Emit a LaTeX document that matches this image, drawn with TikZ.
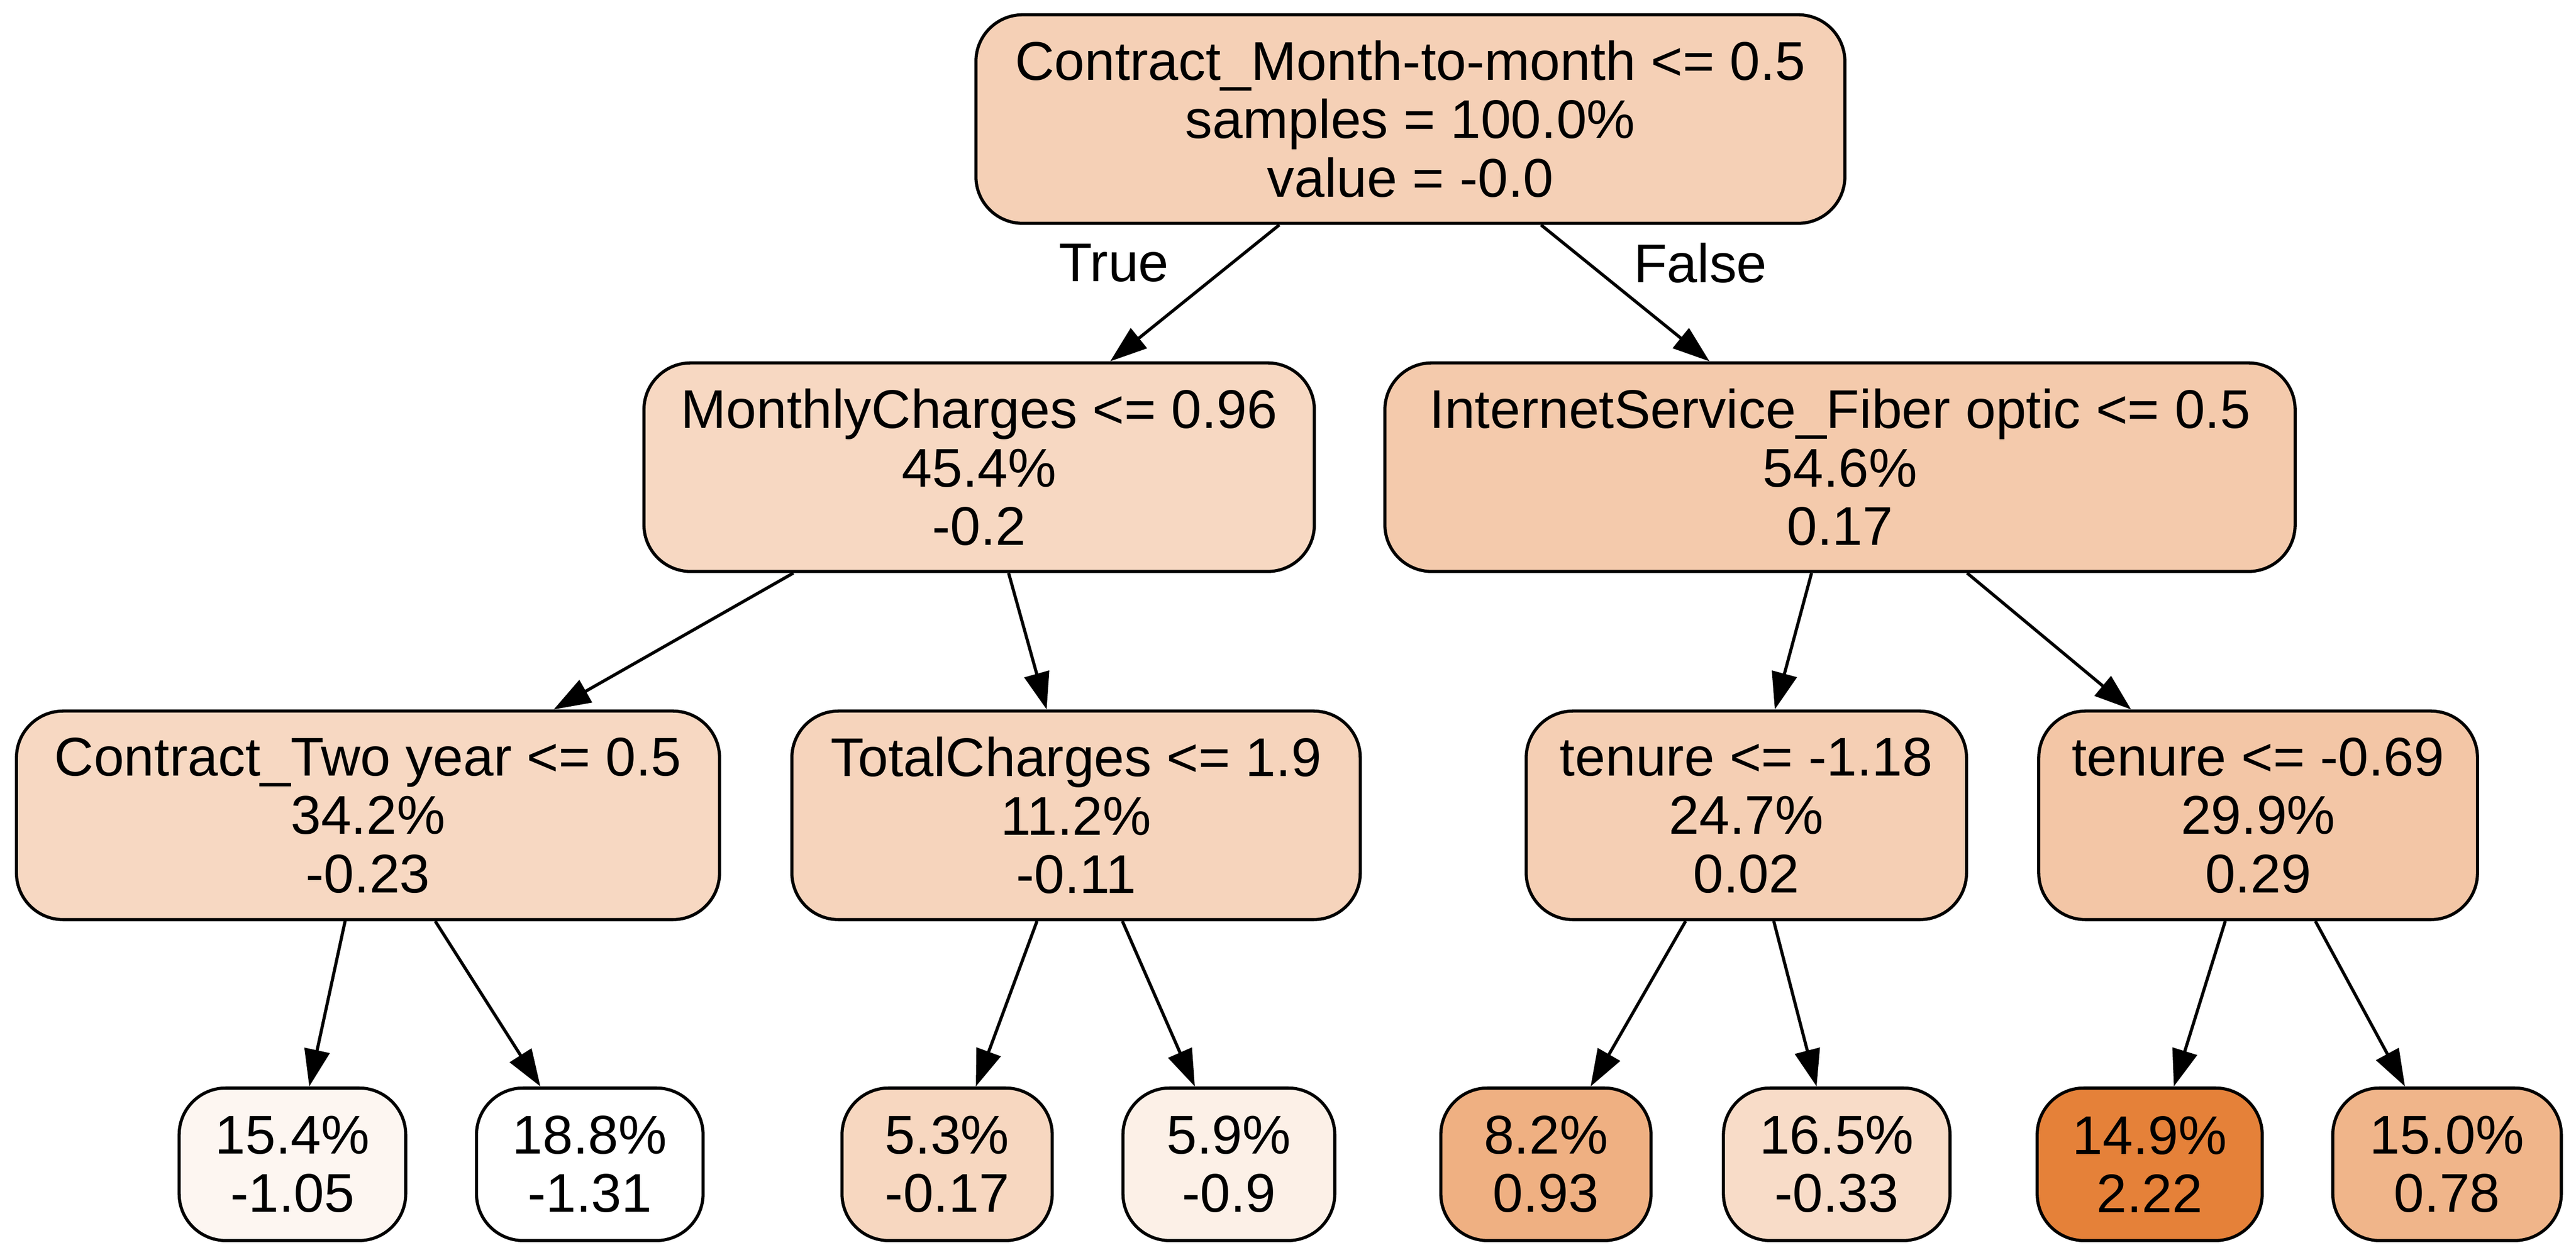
\documentclass[tikz,border=0pt]{standalone}
\usepackage{fontspec}
\setmainfont{Liberation Sans}
\usepackage{xcolor}
\usetikzlibrary{arrows.meta}
\definecolor{treeorange}{HTML}{E58139}

\begin{document}
\begin{tikzpicture}[x=0.422pt, y=-0.422pt,
  split/.style={draw, line width=0.8pt, rounded corners=12pt, align=center, inner sep=0pt, minimum height=53.6pt, font=\fontsize{14pt}{15pt}\selectfont},
  leaf/.style={split, minimum height=39.2pt},
  branch/.style={line width=0.8pt, -{Triangle[length=9.5pt, width=6.5pt]}},
  edgelabel/.style={font=\fontsize{14pt}{15pt}\selectfont}]
\useasboundingbox (0,0) rectangle (1568,764);
\node[split, fill=treeorange!37, minimum width=223.2pt] (root) at (858.5,72.5) {Contract\_Month-to-month <= 0.5\\samples = 100.0\%\\value = -0.0};
\node[split, fill=treeorange!31, minimum width=172.2pt] (monthly) at (596,284.5) {MonthlyCharges <= 0.96\\45.4\%\\-0.2};
\node[split, fill=treeorange!42, minimum width=233.8pt] (fiber) at (1120,284.5) {InternetService\_Fiber optic <= 0.5\\54.6\%\\0.17};
\node[split, fill=treeorange!31, minimum width=180.6pt] (twoyear) at (224,496.5) {Contract\_Two year <= 0.5\\34.2\%\\-0.23};
\node[split, fill=treeorange!34, minimum width=146pt] (total) at (655,496.5) {TotalCharges <= 1.9\\11.2\%\\-0.11};
\node[split, fill=treeorange!38, minimum width=113.1pt] (tenurea) at (1063,496.5) {tenure <= -1.18\\24.7\%\\0.02};
\node[split, fill=treeorange!45, minimum width=112.7pt] (tenureb) at (1374.5,496.5) {tenure <= -0.69\\29.9\%\\0.29};
\node[leaf, fill=treeorange!7, minimum width=58.2pt] (leafa) at (178,709) {15.4\%\\-1.05};
\node[leaf, fill=white, minimum width=58.2pt] (leafb) at (359,709) {18.8\%\\-1.31};
\node[leaf, fill=treeorange!32, minimum width=54pt] (leafc) at (576.5,709) {5.3\%\\-0.17};
\node[leaf, fill=treeorange!12, minimum width=54.4pt] (leafd) at (748,709) {5.9\%\\-0.9};
\node[leaf, fill=treeorange!63, minimum width=54pt] (leafe) at (941,709) {8.2\%\\0.93};
\node[leaf, fill=treeorange!28, minimum width=58.2pt] (leaff) at (1118,709) {16.5\%\\-0.33};
\node[leaf, fill=treeorange, minimum width=57.8pt] (leafg) at (1308.5,709) {14.9\%\\2.22};
\node[leaf, fill=treeorange!59, minimum width=58.7pt] (leafh) at (1489.5,709) {15.0\%\\0.78};
\node[edgelabel] (truelabel) at (678,160) {True};
\node[edgelabel] (falselabel) at (1035,160) {False};
\draw[branch] (root) -- (monthly);
\draw[branch] (root) -- (fiber);
\draw[branch] (monthly) -- (twoyear);
\draw[branch] (monthly) -- (total);
\draw[branch] (fiber) -- (tenurea);
\draw[branch] (fiber) -- (tenureb);
\draw[branch] (twoyear) -- (leafa);
\draw[branch] (twoyear) -- (leafb);
\draw[branch] (total) -- (leafc);
\draw[branch] (total) -- (leafd);
\draw[branch] (tenurea) -- (leafe);
\draw[branch] (tenurea) -- (leaff);
\draw[branch] (tenureb) -- (leafg);
\draw[branch] (tenureb) -- (leafh);
\end{tikzpicture}
\end{document}
